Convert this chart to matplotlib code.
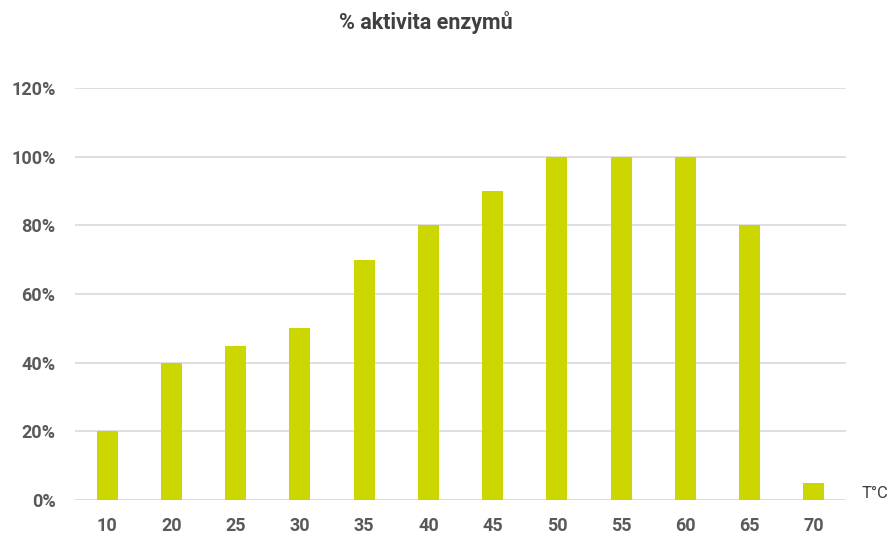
import numpy as np
import matplotlib.pyplot as plt
from matplotlib.ticker import PercentFormatter

teploty = ["10", "20", "25", "30", "35", "40", "45", "50", "55", "60", "65", "70"]
aktivita = [20, 40, 45, 50, 70, 80, 90, 100, 100, 100, 80, 5]
y_ticks = [0, 20, 40, 60, 80, 100, 120]

plt.rcParams['font.family'] = ['Roboto', 'DejaVu Sans']

fig = plt.figure(figsize=(8.93, 5.37), dpi=100)
ax = fig.add_axes([75 / 893, 1 - 500 / 537, 771 / 893, 412 / 537])

x = np.arange(len(teploty))
ax.bar(x, aktivita, width=0.33, color="#CCD600", zorder=3)

ax.set_xlim(-0.5, len(teploty) - 0.5)
ax.set_ylim(0, 120)
ax.set_yticks(y_ticks)
ax.yaxis.set_major_formatter(PercentFormatter(decimals=0))
ax.set_xticks(x)
ax.set_xticklabels(teploty)

ax.grid(axis="y", color="#D9D9D9", linewidth=1.2, zorder=0)
for s in ax.spines.values():
    s.set_visible(False)
ax.tick_params(length=0, colors="#595959", labelsize=13)
ax.tick_params(axis="y", pad=14)
ax.tick_params(axis="x", pad=12)
for lbl in ax.get_xticklabels() + ax.get_yticklabels():
    lbl.set_fontweight("bold")

fig.text(426 / 893, 1 - 22 / 537, "% aktivita enzymů", ha="center", va="center",
         fontsize=15.5, fontweight="bold", color="#404040")
fig.text(862 / 893, 1 - 494 / 537, "T°C", ha="left", va="center",
         fontsize=12, color="#404040")

fig.savefig("out.png", dpi=100)
